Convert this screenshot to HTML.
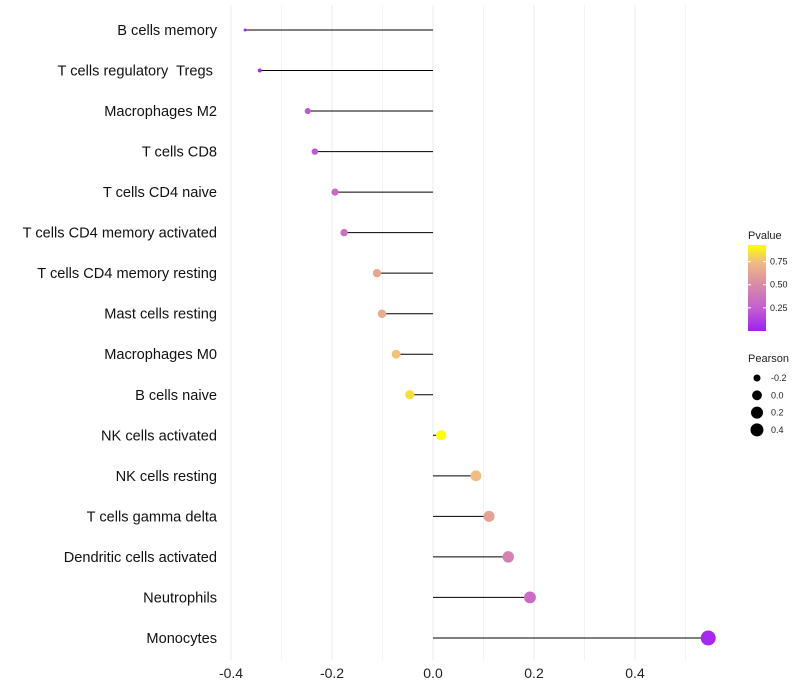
<!DOCTYPE html>
<html><head><meta charset="utf-8"><style>
body{margin:0;background:#fff;font-family:"Liberation Sans",sans-serif}
svg{display:block}
text{white-space:pre}
</style></head><body>
<svg id="chart" width="800" height="700"></svg>
<script>
const categories=["B cells memory","T cells regulatory  Tregs ","Macrophages M2","T cells CD8","T cells CD4 naive","T cells CD4 memory activated","T cells CD4 memory resting","Mast cells resting","Macrophages M0","B cells naive","NK cells activated","NK cells resting","T cells gamma delta","Dendritic cells activated","Neutrophils","Monocytes"];
const pearson=[-0.372,-0.343,-0.248,-0.234,-0.194,-0.176,-0.111,-0.101,-0.073,-0.046,0.016,0.085,0.111,0.149,0.192,0.545];
const pvalue=[0.02,0.05,0.22,0.22,0.3,0.34,0.64,0.67,0.76,0.84,0.95,0.75,0.62,0.45,0.32,0.04];
const xTicks=[-0.4,-0.2,0.0,0.2,0.4];
const xTickLabels=["-0.4","-0.2","0.0","0.2","0.4"];
const legendP=[0.25,0.5,0.75];
const legendSizes=[-0.2,0.0,0.2,0.4];

const NS="http://www.w3.org/2000/svg";
const svg=document.getElementById("chart");
function mk(t,a,p){const e=document.createElementNS(NS,t);for(const k in a)e.setAttribute(k,a[k]);(p||svg).appendChild(e);return e;}
const x=v=>433+v*505;
const y=i=>30+i*40.53;
const stops=[[0,[160,32,240]],[0.25,[196,96,208]],[0.5,[216,138,168]],[0.75,[240,190,128]],[0.93,[255,255,0]]];
function col(p){
  if(p<=stops[0][0])return "rgb("+stops[0][1]+")";
  for(let i=1;i<stops.length;i++){if(p<=stops[i][0]){const a=stops[i-1],b=stops[i],t=(p-a[0])/(b[0]-a[0]);return "rgb("+a[1].map((c,j)=>Math.round(c+(b[1][j]-c)*t)).join(",")+")";}}
  return "rgb(255,255,0)";
}
function r(v){const mn=-0.372,mx=0.545;const t=(v-mn)/(mx-mn);return Math.sqrt(2.25+t*(56.25-2.25));}

[-0.3,-0.1,0.1,0.3,0.5].forEach(v=>{const g=mk("line",{x1:x(v),x2:x(v),y1:5,y2:660,stroke:"#f3f3f3","stroke-width":1});

});
xTicks.forEach((v,i)=>{const g=mk("line",{x1:x(v),x2:x(v),y1:5,y2:660,stroke:"#ebebeb","stroke-width":1});


const t=mk("text",{x:x(v),y:678,"text-anchor":"middle","font-size":14,fill:"#222"});t.textContent=xTickLabels[i];

});

categories.forEach((c,i)=>{
  const l=mk("line",{x1:x(0),x2:x(pearson[i]),y1:y(i),y2:y(i),stroke:"#000","stroke-width":1});
  
  
  const d=mk("circle",{cx:x(pearson[i]),cy:y(i),r:r(pearson[i]),fill:col(pvalue[i])});
  
  
  const t=mk("text",{x:217,y:y(i)+5,"text-anchor":"end","font-size":14.6,fill:"#111"});t.textContent=c;
  
  
});

const defs=mk("defs",{});
const lg=mk("linearGradient",{id:"pg",x1:0,y1:1,x2:0,y2:0},defs);
stops.forEach(s=>mk("stop",{offset:s[0]/0.93,"stop-color":"rgb("+s[1]+")"},lg));
const lt=mk("text",{x:748,y:239,"font-size":11,fill:"#222"});lt.textContent="Pvalue";


const bar=mk("rect",{x:748,y:245,width:18,height:86,fill:"url(#pg)"});


legendP.forEach(p=>{const yy=330-(p-0.01)/0.92*85;
  mk("line",{x1:748,x2:751,y1:yy,y2:yy,stroke:"#fff"});mk("line",{x1:763,x2:766,y1:yy,y2:yy,stroke:"#fff"});
  const t=mk("text",{x:770,y:yy+3,"font-size":9,fill:"#222"});t.textContent=p.toFixed(2);
  
  });
const st=mk("text",{x:748,y:362,"font-size":11,fill:"#222"});st.textContent="Pearson";


legendSizes.forEach((v,i)=>{const yy=378+i*17.3;
  const c=mk("circle",{cx:757,cy:yy,r:Math.min(r(v),6.5),fill:"#000"});
  
  
  const t=mk("text",{x:771,y:yy+3,"font-size":9,fill:"#222"});t.textContent=v.toFixed(1);
  
  });
</script>
</body></html>
